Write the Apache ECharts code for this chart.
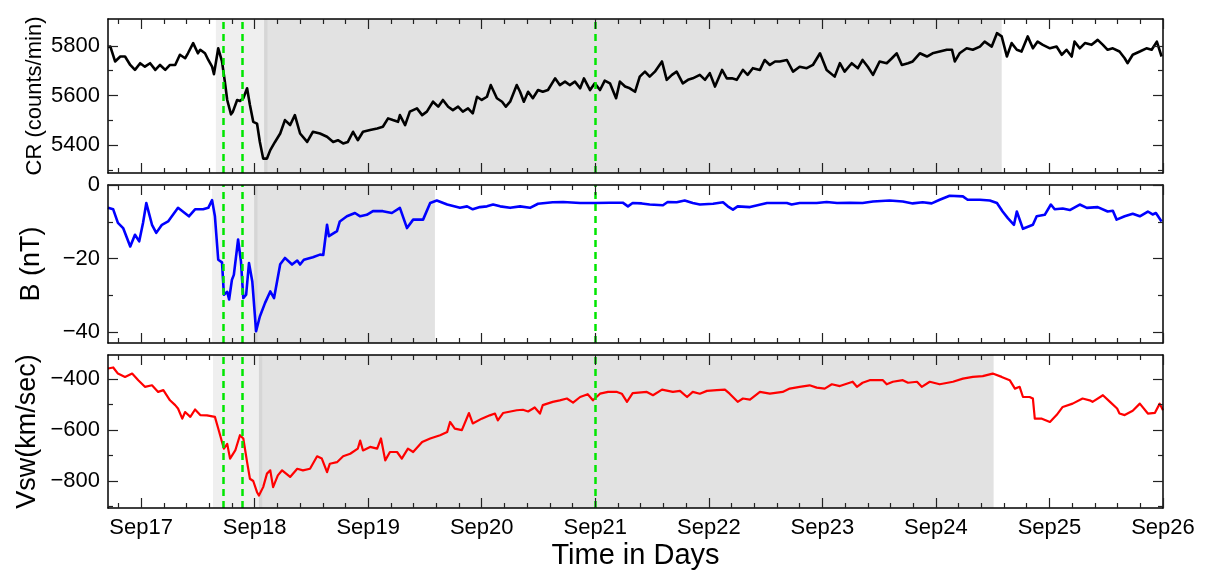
<!DOCTYPE html>
<html>
<head>
<meta charset="utf-8">
<script src="https://cdn.jsdelivr.net/npm/echarts@6/dist/echarts.min.js"></script>
<style>
  html, body { margin: 0; padding: 0; background: #fff; }
  #chart { width: 1219px; height: 574px; }
</style>
</head>
<body>
<div id="chart"></div>
<script>
// all times in hours from Sep17 00:00

// cosmic ray counts
const crHours = [
  -7.0, -6.5, -5.5, -4.4, -3.4, -2.3, -1.3, -0.2, 0.8, 1.9, 3.0, 4.0, 5.1, 6.1, 7.2, 8.2, 9.3, 9.9, 11.0, 12.0,
  12.5, 13.5, 14.2, 15.0, 15.4, 16.3, 17.1, 17.7, 18.2, 19.0, 19.4, 20.3, 20.9, 21.6, 22.4, 23.0, 23.7, 24.5, 25.1, 25.8,
  26.6, 27.3, 28.3, 29.4, 30.4, 31.5, 32.5, 33.6, 35.1, 36.3, 37.8, 39.3, 40.6, 41.6, 42.7, 43.7, 44.8, 45.8, 46.9, 48.4,
  49.9, 51.1, 52.2, 53.2, 54.3, 54.7, 55.8, 56.8, 58.3, 59.4, 60.4, 61.7, 62.8, 63.8, 64.9, 65.9, 67.0, 68.0, 69.1, 70.1,
  71.0, 72.0, 73.1, 73.9, 75.2, 76.3, 77.1, 78.0, 79.4, 80.1, 80.9, 81.8, 82.8, 83.9, 84.9, 86.0, 87.5, 88.5, 89.6, 90.6,
  91.7, 92.8, 93.6, 94.9, 95.9, 97.0, 98.0, 99.1, 100.4, 101.2, 102.3, 103.3, 104.4, 105.4, 106.5, 107.5, 108.6, 110.1, 111.1, 112.2,
  113.2, 114.5, 115.6, 116.6, 118.1, 119.2, 120.2, 121.3, 122.8, 123.8, 124.9, 125.9, 127.2, 128.2, 129.3, 130.8, 131.8, 132.9, 134.0, 135.0,
  136.5, 137.8, 139.2, 140.7, 142.0, 143.5, 144.9, 146.6, 147.7, 148.7, 150.2, 151.5, 152.5, 153.6, 154.7, 156.1, 157.6, 158.7, 159.7, 160.8,
  162.1, 163.1, 164.6, 166.1, 167.3, 168.8, 170.3, 171.4, 172.0, 173.0, 174.5, 175.8, 177.3, 178.3, 179.8, 180.9, 181.9, 183.0, 184.0, 185.1,
  186.1, 187.4, 188.5, 189.5, 190.6, 192.1, 193.5, 194.6, 195.6, 196.7, 197.3, 198.4, 199.5, 200.9, 202.2, 203.3, 204.3, 205.4, 206.8, 207.9,
  208.5, 209.6, 211.1, 212.5, 213.6, 214.7, 215.7
]
const crValues = [
  5795, 5797, 5737, 5757, 5757, 5723, 5703, 5730, 5716, 5730, 5703, 5723, 5703, 5723, 5723, 5764, 5750, 5770, 5811, 5770,
  5784, 5770, 5743, 5716, 5686, 5790, 5737, 5656, 5582, 5524, 5535, 5582, 5578, 5589, 5629, 5562, 5494, 5487, 5413, 5346,
  5346, 5380, 5413, 5447, 5501, 5481, 5521, 5447, 5413, 5454, 5447, 5434, 5413, 5420, 5407, 5413, 5454, 5420, 5454, 5461,
  5467, 5474, 5508, 5501, 5494, 5521, 5481, 5535, 5548, 5521, 5535, 5575, 5555, 5582, 5555, 5541, 5555, 5535, 5548, 5528,
  5595, 5582, 5595, 5642, 5589, 5575, 5555, 5575, 5642, 5615, 5575, 5615, 5589, 5622, 5615, 5622, 5669, 5642, 5656, 5642,
  5656, 5629, 5669, 5622, 5649, 5622, 5660, 5649, 5589, 5656, 5636, 5629, 5615, 5676, 5696, 5676, 5696, 5737, 5663, 5683,
  5696, 5649, 5663, 5669, 5683, 5663, 5690, 5636, 5703, 5669, 5669, 5663, 5703, 5683, 5710, 5703, 5743, 5723, 5737, 5737,
  5743, 5696, 5716, 5710, 5723, 5770, 5703, 5676, 5730, 5696, 5730, 5710, 5743, 5716, 5683, 5737, 5730, 5750, 5770, 5723,
  5730, 5737, 5770, 5757, 5770, 5777, 5784, 5784, 5737, 5770, 5790, 5784, 5797, 5817, 5797, 5851, 5838, 5757, 5811, 5784,
  5777, 5838, 5790, 5817, 5804, 5790, 5797, 5764, 5784, 5757, 5817, 5790, 5811, 5804, 5824, 5804, 5784, 5790, 5777, 5750,
  5730, 5764, 5777, 5790, 5784, 5817, 5757
]

// magnetic field
const bHours = [
  -7.0, -5.9, -4.9, -3.8, -2.3, -1.3, -0.4, 0.4, 1.1, 2.3, 3.2, 4.4, 5.7, 7.8, 10.1, 11.4, 13.1, 14.2, 15.0, 15.6,
  16.3, 17.1, 17.5, 18.2, 18.6, 19.2, 19.6, 20.5, 21.1, 21.6, 22.2, 22.8, 23.5, 24.3, 25.1, 26.2, 27.3, 28.1, 29.4, 30.4,
  31.9, 33.0, 33.6, 34.4, 36.3, 37.8, 38.5, 39.3, 39.7, 41.4, 42.0, 43.5, 45.2, 46.3, 47.7, 49.0, 51.1, 53.0, 54.7, 56.2,
  57.5, 59.6, 61.1, 62.5, 64.7, 67.4, 68.9, 70.1, 71.6, 73.1, 74.4, 75.9, 78.0, 80.1, 82.2, 83.9, 87.0, 89.2, 92.8, 95.9,
  99.1, 101.8, 102.9, 103.9, 105.8, 107.5, 110.3, 111.3, 113.2, 114.9, 116.6, 118.1, 120.9, 123.0, 124.0, 125.1, 126.1, 128.7, 132.3, 136.5,
  137.5, 139.2, 142.8, 144.9, 147.1, 149.8, 152.5, 154.7, 158.2, 161.0, 163.1, 165.2, 167.1, 168.8, 170.9, 173.7, 174.7, 177.3, 179.4, 180.9,
  182.1, 183.2, 184.5, 185.1, 186.4, 188.5, 189.3, 191.0, 192.3, 193.1, 194.8, 196.3, 198.4, 199.9, 202.2, 204.3, 205.4, 206.2, 207.9, 209.6,
  211.1, 212.8, 213.8, 214.5, 215.7
]
const bValues = [
  -6.2, -6.6, -10.3, -11.7, -16.7, -13.5, -15.3, -10.3, -4.9, -10.8, -13.0, -10.8, -9.9, -6.2, -8.5, -6.6, -6.6, -6.2, -4.1, -8.5,
  -20.3, -21.0, -29.8, -29.0, -31.1, -25.7, -24.4, -14.8, -20.7, -30.7, -29.8, -21.2, -26.2, -39.7, -35.7, -32.0, -28.9, -30.7, -21.5, -19.8,
  -21.6, -20.5, -21.6, -20.3, -19.6, -18.9, -19.0, -10.8, -13.9, -12.5, -9.9, -8.5, -7.6, -8.5, -8.1, -7.1, -7.1, -7.6, -6.2, -11.7,
  -9.4, -9.4, -4.9, -4.2, -5.3, -6.2, -5.8, -6.6, -6.0, -5.8, -5.3, -5.8, -6.2, -5.8, -6.2, -5.1, -4.7, -4.6, -4.9, -4.9,
  -4.8, -4.8, -5.8, -4.9, -5.0, -5.3, -5.5, -4.6, -4.7, -4.2, -4.9, -5.3, -5.1, -4.7, -5.8, -6.7, -5.8, -6.0, -4.9, -4.9,
  -5.3, -4.9, -4.9, -4.6, -4.9, -4.8, -4.9, -4.5, -4.2, -4.5, -5.0, -4.7, -5.0, -4.0, -2.9, -3.1, -4.0, -4.0, -4.2, -4.9,
  -7.2, -9.0, -10.8, -7.2, -11.9, -10.8, -8.5, -8.1, -5.3, -6.6, -6.4, -6.8, -5.3, -6.2, -6.0, -7.2, -7.0, -9.4, -8.5, -7.8,
  -8.5, -7.2, -8.0, -7.6, -9.9
]

// solar wind speed
const vswHours = [
  -7.0, -5.9, -4.9, -3.4, -1.9, -0.6, 0.8, 2.3, 3.6, 4.7, 6.1, 7.2, 7.8, 8.7, 9.3, 10.4, 11.4, 12.5, 13.9, 15.6,
  16.3, 17.1, 17.5, 18.2, 18.8, 19.9, 20.9, 21.6, 22.4, 23.0, 23.7, 24.5, 24.9, 25.8, 26.6, 27.3, 27.9, 28.9, 29.8, 31.5,
  33.0, 34.2, 35.7, 37.2, 38.2, 39.3, 39.9, 41.4, 42.7, 44.2, 45.8, 46.3, 46.9, 48.4, 49.9, 50.7, 51.6, 52.6, 54.1, 55.1,
  56.4, 57.5, 59.4, 61.1, 63.2, 64.7, 65.3, 66.3, 67.8, 69.3, 70.1, 72.0, 73.7, 74.8, 75.4, 76.5, 79.4, 80.7, 81.8, 83.2,
  84.3, 84.9, 87.0, 88.5, 90.0, 91.3, 92.8, 94.4, 95.5, 97.0, 98.7, 100.6, 101.6, 102.7, 103.9, 106.9, 108.2, 110.1, 112.4, 113.9,
  115.4, 116.6, 118.1, 119.6, 121.7, 123.4, 124.4, 126.1, 127.2, 128.7, 130.8, 132.9, 135.6, 137.1, 139.2, 141.3, 142.8, 144.5, 146.0, 147.7,
  150.4, 151.3, 152.5, 154.0, 156.8, 157.6, 158.9, 161.0, 162.1, 164.0, 165.0, 166.7, 168.8, 170.5, 171.6, 173.7, 175.8, 177.9, 180.0, 181.9,
  183.6, 184.7, 185.7, 186.4, 187.8, 188.5, 188.9, 190.4, 192.1, 193.5, 194.8, 196.9, 199.0, 200.5, 201.1, 203.3, 204.8, 206.3, 206.8, 207.9,
  209.6, 211.1, 212.8, 214.3, 215.3, 216.0
]
const vswValues = [
  -358, -354, -378, -391, -378, -404, -430, -424, -450, -443, -483, -502, -515, -555, -529, -548, -519, -541, -542, -548,
  -594, -647, -673, -654, -712, -680, -620, -633, -726, -791, -800, -844, -857, -824, -771, -758, -824, -778, -758, -784,
  -752, -758, -752, -703, -712, -765, -732, -726, -703, -693, -673, -641, -680, -666, -673, -633, -719, -686, -686, -712,
  -673, -686, -647, -633, -620, -607, -568, -594, -600, -533, -574, -555, -542, -535, -562, -533, -522, -520, -527, -511,
  -535, -502, -489, -483, -476, -492, -470, -459, -483, -457, -450, -450, -457, -489, -455, -450, -463, -441, -450, -446,
  -470, -450, -457, -446, -443, -441, -457, -489, -476, -480, -450, -457, -450, -437, -430, -424, -433, -437, -420, -427,
  -410, -430, -414, -404, -404, -420, -410, -404, -414, -410, -430, -410, -420, -414, -410, -398, -391, -388, -378, -391,
  -404, -437, -430, -470, -470, -476, -555, -555, -568, -541, -509, -496, -476, -483, -489, -463, -489, -515, -535, -541,
  -524, -496, -535, -532, -496, -522
]

// x axis: day boundaries and labels
const dayTicks = [0, 24, 48, 72, 96, 120, 144, 168, 192, 216]
const dayLabels = ['Sep17', 'Sep18', 'Sep19', 'Sep20', 'Sep21', 'Sep22', 'Sep23', 'Sep24', 'Sep25', 'Sep26']

// y axis ticks
const crTicks = [5400, 5600, 5800]
const crMinorTicks = [5300, 5500, 5700]
const bTicks = [0, -20, -40]
const bMinorTicks = [-10, -30]
const vswTicks = [-400, -600, -800]
const vswMinorTicks = [-500, -700, -900]

// event markers (hours) and shaded intervals [lightStart, darkStart, end]
const eventHours = [17.3, 21.3, 96.0]
const crShade = [15.8, 26.0, 181.9]
const bShade = [15.0, 23.9, 62.1]
const vswShade = [15.2, 24.9, 180.2]

const xMin = -7
const xMax = 216
const minorDayTicks = [-4.8]
dayTicks.slice(0, -1).forEach((d) => {
  for (let k = 1; k < 5; k++) minorDayTicks.push(d + 4.8 * k)
})

const font = "'Liberation Sans', Arial, sans-serif"
const tickStyle = { color: '#222', width: 1.2 }
const boxLine = { show: true, onZero: false, lineStyle: { color: '#000', width: 1.5 } }
const noLine = { show: false, onZero: false }
const minus = (v) => String(v).replace('-', '\u2212')

const grids = [
  { left: 108, width: 1055, top: 19, height: 154 },
  { left: 108, width: 1055, top: 185, height: 158 },
  { left: 108, width: 1055, top: 355, height: 153 },
]

function makeXAxes(g, withLabels) {
  const base = { gridIndex: g, type: 'value', min: xMin, max: xMax, splitLine: { show: false }, z: 10 }
  const major = { show: true, inside: true, length: 10, customValues: dayTicks, lineStyle: tickStyle }
  const minor = { show: true, inside: true, length: 5, customValues: minorDayTicks, lineStyle: tickStyle }
  return [
    {
      ...base, position: 'bottom', axisLine: boxLine, axisTick: major,
      axisLabel: withLabels
        ? { show: true, customValues: dayTicks, formatter: (v) => dayLabels[Math.round(v / 24)], color: '#000', fontSize: 22, fontFamily: font, margin: 9 }
        : { show: false },
      name: withLabels ? 'Time in Days' : '',
      nameLocation: 'middle',
      nameGap: 33,
      nameMoveOverlap: false,
      nameTextStyle: { color: '#000', fontSize: 29, fontFamily: font },
    },
    { ...base, position: 'bottom', axisLine: noLine, axisTick: minor, axisLabel: { show: false } },
    { ...base, position: 'top', axisLine: boxLine, axisTick: major, axisLabel: { show: false } },
    { ...base, position: 'top', axisLine: noLine, axisTick: minor, axisLabel: { show: false } },
  ]
}

function makeYAxes(g, min, max, ticks, minorTicks, name, nameSize, nameGap) {
  const base = { gridIndex: g, type: 'value', min, max, splitLine: { show: false }, z: 10 }
  const major = { show: true, inside: true, length: 10, customValues: ticks, lineStyle: tickStyle }
  const minor = { show: true, inside: true, length: 5, customValues: minorTicks, lineStyle: tickStyle }
  return [
    {
      ...base, position: 'left', axisLine: boxLine, axisTick: major,
      axisLabel: { show: true, customValues: ticks, formatter: minus, color: '#000', fontSize: 22, fontFamily: font, margin: 8 },
      name, nameLocation: 'middle', nameGap, nameMoveOverlap: false,
      nameTextStyle: { color: '#000', fontSize: nameSize, fontFamily: font },
    },
    { ...base, position: 'left', axisLine: noLine, axisTick: minor, axisLabel: { show: false } },
    { ...base, position: 'right', axisLine: boxLine, axisTick: major, axisLabel: { show: false } },
    { ...base, position: 'right', axisLine: noLine, axisTick: minor, axisLabel: { show: false } },
  ]
}

function shadeAreas(s) {
  return [
    [{ xAxis: s[0], itemStyle: { color: '#efefef' } }, { xAxis: s[1] }],
    [{ xAxis: s[1], itemStyle: { color: '#e2e2e2' } }, { xAxis: s[2] }],
    [{ xAxis: s[1], itemStyle: { color: '#d6d6d6' } }, { xAxis: s[1] + 0.7 }],
  ]
}

function makeSeries(g, name, xs, values, color, width, shade) {
  return {
    name,
    type: 'line',
    xAxisIndex: g * 4,
    yAxisIndex: g * 4,
    data: xs.map((h, i) => [h, values[i]]),
    showSymbol: false,
    symbol: 'none',
    lineStyle: { color, width, join: 'round' },
    animation: false,
    markArea: { silent: true, data: shadeAreas(shade) },
    markLine: {
      silent: true,
      symbol: ['none', 'none'],
      label: { show: false },
      lineStyle: { color: '#00e600', type: [7, 5], width: 2.5 },
      data: eventHours.map((h) => ({ xAxis: h })),
    },
  }
}

const chart = echarts.init(document.getElementById('chart'), null, { renderer: 'canvas' })
chart.setOption({
  animation: false,
  backgroundColor: '#fff',
  grid: grids,
  xAxis: [...makeXAxes(0, false), ...makeXAxes(1, false), ...makeXAxes(2, true)],
  yAxis: [
    ...makeYAxes(0, 5288, 5908, crTicks, crMinorTicks, 'CR (counts/min)', 22, 62),
    ...makeYAxes(1, -42.9, 0, bTicks, bMinorTicks, 'B (nT)', 27, 63),
    ...makeYAxes(2, -906, -305, vswTicks, vswMinorTicks, 'Vsw(km/sec)', 27, 67),
  ],
  series: [
    makeSeries(0, 'CR', crHours, crValues, '#000', 2.6, crShade),
    makeSeries(1, 'B', bHours, bValues, '#0000ff', 2.6, bShade),
    makeSeries(2, 'Vsw', vswHours, vswValues, '#ff0000', 2.2, vswShade),
  ],
})
</script>
</body>
</html>
